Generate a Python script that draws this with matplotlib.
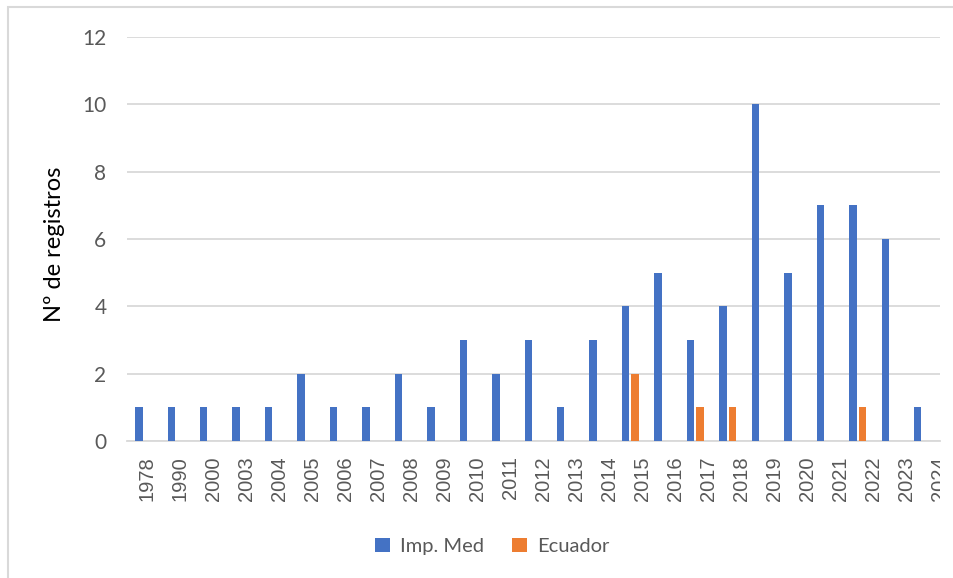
import matplotlib
matplotlib.use('Agg')
import matplotlib.pyplot as plt
from matplotlib.patches import Rectangle
from matplotlib.transforms import Bbox, TransformedBbox
import numpy as np

years = ['1978', '1990', '2000', '2003', '2004', '2005', '2006', '2007', '2008',
         '2009', '2010', '2011', '2012', '2013', '2014', '2015', '2016', '2017',
         '2018', '2019', '2020', '2021', '2022', '2023', '2024']
imp_med = [1, 1, 1, 1, 1, 2, 1, 1, 2, 1, 3, 2, 3, 1, 3, 4, 5, 3, 4, 10, 5, 7, 7, 6, 1]
ecuador = [0, 0, 0, 0, 0, 0, 0, 0, 0, 0, 0, 0, 0, 0, 0, 2, 0, 1, 1, 0, 0, 0, 1, 0, 0]

blue = '#4472C4'
orange = '#ED7D31'
grid_col = '#D9D9D9'
text_col = '#595959'

fig = plt.figure(figsize=(9.54, 5.78), dpi=100)
ax = fig.add_axes([0.1334, 0.237, 0.8519, 0.699])

x = np.arange(len(years))
w = 0.23
ax.bar(x - 0.145, imp_med, width=w, color=blue, label='Imp. Med', zorder=3)
ax.bar(x + 0.145, ecuador, width=w, color=orange, label='Ecuador', zorder=3)

ax.set_xlim(-0.5, len(years) - 0.5)
ax.set_ylim(0, 12)
ax.set_yticks(range(0, 13, 2))
ax.yaxis.grid(True, color=grid_col, linewidth=1.3, zorder=0)
ax.set_axisbelow(True)
for s in ['top', 'right', 'left']:
    ax.spines[s].set_visible(False)
ax.spines['bottom'].set_color(grid_col)
ax.spines['bottom'].set_linewidth(1.3)

ax.tick_params(axis='y', length=0, pad=15, labelsize=15, labelcolor=text_col)
for lab in ax.get_yticklabels():
    lab.set_fontfamily('Lato')

# category labels sit on a slightly wider step than the bars (as in the original)
ax.set_xticks(0.108 + 1.018 * x)
ax.set_xticklabels(years, rotation=90, fontsize=14.5, color=text_col,
                   fontfamily='Liberation Sans')
ax.tick_params(axis='x', length=0, pad=11)
clip = TransformedBbox(Bbox([[-0.3, -0.6], [1.0, 1.2]]), ax.transAxes)
for lab in ax.get_xticklabels():
    lab.set_clip_on(True)
    lab.set_clip_box(clip)

fig.text(55 / 954, 0.578, 'Nº de registros', rotation=90, ha='center', va='center',
         fontsize=17, fontfamily='Lato', color='black')

fig.legend(loc='center', bbox_to_anchor=(0.516, 0.055), ncol=2, frameon=False,
           handlelength=0.75, handleheight=0.75, handletextpad=0.5,
           columnspacing=1.4, prop={'family': 'Lato', 'size': 14.5},
           labelcolor=text_col)

# chart border
fig.patches.append(Rectangle((8 / 954, -0.05), 1.1, 1 - 7 / 578 + 0.05,
                             transform=fig.transFigure, fill=False,
                             edgecolor=grid_col, linewidth=1.5))

fig.savefig('out.png', dpi=100)
